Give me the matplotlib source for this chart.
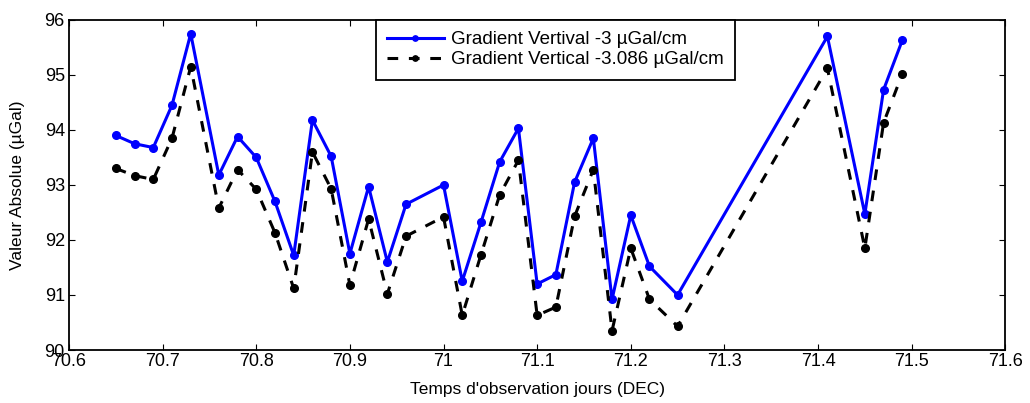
import numpy as np
import matplotlib.pyplot as plt

plt.rcParams['font.family'] = ['Liberation Sans', 'DejaVu Sans']

# temps (jours DEC)
t = [70.65, 70.67, 70.69, 70.71, 70.73, 70.76, 70.78, 70.80, 70.82, 70.84,
     70.86, 70.88, 70.90, 70.92, 70.94, 70.96, 71.00, 71.02, 71.04, 71.06,
     71.08, 71.10, 71.12, 71.14, 71.16, 71.18, 71.20, 71.22, 71.25, 71.41,
     71.45, 71.47, 71.49]

g1 = [93.9, 93.75, 93.68, 94.45, 95.75, 93.18, 93.88, 93.5, 92.7, 91.72,
      94.18, 93.52, 91.75, 92.97, 91.6, 92.65, 93.0, 91.25, 92.32, 93.42,
      94.03, 91.2, 91.37, 93.05, 93.85, 90.92, 92.45, 91.52, 91.0, 95.7,
      92.47, 94.73, 95.63]

g2 = [93.3, 93.17, 93.1, 93.85, 95.15, 92.58, 93.28, 92.92, 92.13, 91.12,
      93.6, 92.93, 91.18, 92.38, 91.02, 92.07, 92.42, 90.63, 91.73, 92.82,
      93.45, 90.63, 90.78, 92.43, 93.28, 90.35, 91.85, 90.92, 90.43, 95.12,
      91.85, 94.13, 95.02]

fig = plt.figure(figsize=(10.3, 4.03), dpi=100)
ax = fig.add_axes([0.067, 0.1315, 0.909, 0.819])

ax.plot(t, g1, '-', color='#0000ff', lw=2.2, marker='o', ms=5.5,
        label='Gradient Vertival -3 µGal/cm')
ax.plot(t, g2, '--', color='black', lw=2.2, marker='o', ms=5.5, dashes=(3.5, 3.5),
        label='Gradient Vertical -3.086 µGal/cm')

ax.set_xlim(70.6, 71.6)
ax.set_ylim(90, 96)
ax.set_xticks(np.arange(70.6, 71.61, 0.1))
ax.set_xticklabels(['70.6', '70.7', '70.8', '70.9', '71', '71.1', '71.2',
                    '71.3', '71.4', '71.5', '71.6'])
ax.set_yticks(range(90, 97))
ax.tick_params(direction='in', top=True, right=True, labelsize=13, length=4)
ax.tick_params(axis='x', pad=2)
ax.tick_params(axis='y', pad=3)
for s in ax.spines.values():
    s.set_linewidth(1.3)

ax.set_xlabel("Temps d'observation jours (DEC)", fontsize=12.5, labelpad=9)
ax.set_ylabel('Valeur Absolue (µGal)', fontsize=12.5, labelpad=14)

leg = ax.legend(loc='upper left', bbox_to_anchor=(0.328, 1.0), fontsize=13.5,
                fancybox=False, edgecolor='black', framealpha=1,
                handlelength=3.0, handletextpad=0.4, borderpad=0.6,
                labelspacing=0.15, borderaxespad=0, markerscale=0.7)
leg.get_frame().set_linewidth(1.3)

fig.savefig('out.png', dpi=100)
